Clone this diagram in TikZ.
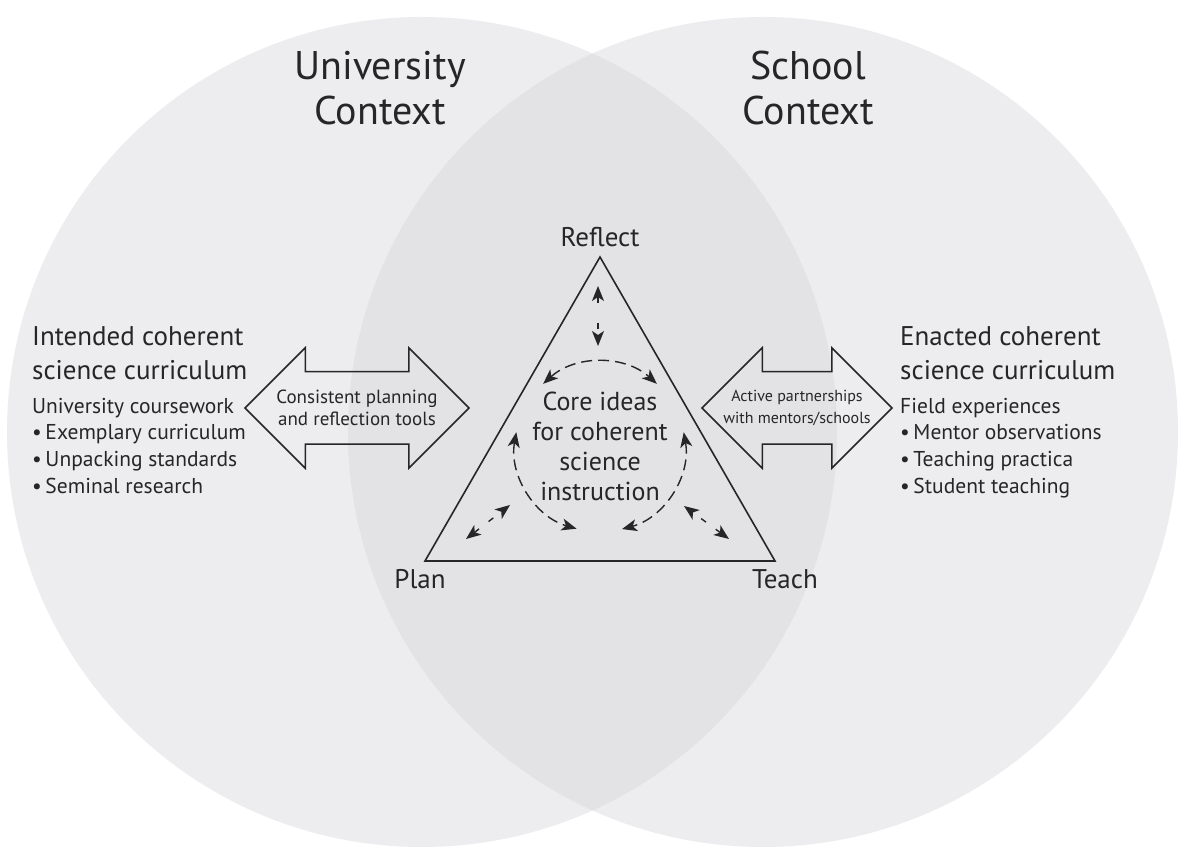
\documentclass[tikz,border=0pt]{standalone}
\usepackage{fontspec}
\setmainfont{PT Sans}
\usetikzlibrary{arrows.meta, positioning, shapes.arrows, calc}

\definecolor{ctxgray}{RGB}{237,237,239}
\definecolor{overlapgray}{RGB}{227,227,230}
\definecolor{inkgray}{RGB}{38,38,38}

\begin{document}
\begin{tikzpicture}[
    x=1pt, y=1pt,
    >={Stealth[length=15pt, width=12pt, inset=4pt]},
    every node/.style={text=inkgray},
    title/.style={align=center, font=\fontsize{40}{45}\selectfont},
    heading/.style={align=left, inner sep=0pt, font=\fontsize{27}{34}\selectfont},
    listtext/.style={align=left, inner sep=0pt, font=\fontsize{21.5}{26.8}\selectfont},
    corner/.style={font=\fontsize{27}{30}\selectfont},
    blockarrow/.style={double arrow, draw=inkgray, line width=1.5pt,
        double arrow head extend=24pt, double arrow tip angle=90, inner xsep=0pt, inner ysep=35.5pt},
    arrowtext/.style={align=center, font=\fontsize{16}{22}\selectfont},
    loopline/.style={<->, draw=inkgray, line width=1.4pt, dash pattern=on 11pt off 6pt},
    pairarrow/.style={<->, draw=inkgray, line width=1.4pt, dash pattern=on 6pt off #1},
    pairarrow/.default=20pt
]
  \useasboundingbox (0,0) rectangle (1184,855);
  \fill[white] (0,0) rectangle (1184,855);

  % the two contexts and their overlap
  \coordinate (uni) at (422,423);
  \coordinate (sch) at (763,423);
  \fill[ctxgray] (uni) circle[radius=415];
  \fill[ctxgray] (sch) circle[radius=415];
  \begin{scope}
    \clip (uni) circle[radius=415];
    \fill[overlapgray] (sch) circle[radius=415];
  \end{scope}

  \node[title] (tuni) at (380,767) {University\\Context};
  \node[title] (tsch) at (808,767) {School\\Context};

  % curriculum lists on both sides
  \node[heading, anchor=north west] (lhead) at (32,529) {Intended coherent\\science curriculum};
  \node[listtext, anchor=north west] (llist) at ([yshift=-18pt]lhead.south west)
    {University coursework\\•\,Exemplary curriculum\\•\,Unpacking standards\\•\,Seminal research};
  \node[heading, anchor=north west] (rhead) at (900,529) {Enacted coherent\\science curriculum};
  \node[listtext, anchor=north west] (rlist) at ([yshift=-18pt]rhead.south west)
    {Field experiences\\•\,Mentor observations\\•\,Teaching practica\\•\,Student teaching};

  % block arrows
  \node[blockarrow, minimum height=224pt] (larrow) at (357,447) {};
  \node[arrowtext, font=\fontsize{19}{22}\selectfont] (ltext) at (larrow) {Consistent planning\\and reflection tools};
  \node[blockarrow, minimum height=190pt] (rarrow) at (797,447) {};
  \node[arrowtext] (rtext) at (rarrow) {Active partnerships\\with mentors/schools};

  % triangle
  \coordinate (R) at (600,598);
  \coordinate (P) at (425,294);
  \coordinate (T) at (775,294);
  \draw[inkgray, line width=1.6pt, line join=miter] (R) -- (P) -- (T) -- cycle;
  \node[corner] (lreflect) at (600,618) {Reflect};
  \node[corner] (lplan) at (420,276) {Plan};
  \node[corner] (lteach) at (785,276) {Teach};

  \coordinate (C) at (600,408);
  \node[align=center, font=\fontsize{26}{30}\selectfont] (core) at (600,409)
    {Core ideas\\for coherent\\science\\instruction};

  % dashed cycle round the core ideas
  \draw[loopline] ([shift={(132:85)}]C) arc[start angle=132, end angle=48, radius=85];
  \draw[loopline] ([shift={(170:85)}]C) arc[start angle=170, end angle=254, radius=85];
  \draw[loopline] ([shift={(10:85)}]C) arc[start angle=10, end angle=-75, radius=85];

  % arrows towards each corner
  \coordinate (ra) at (598,569);
  \coordinate (rb) at (598,509);
  \coordinate (pa) at (466,316);
  \coordinate (pb) at (510,350);
  \coordinate (ta) at (729,316);
  \coordinate (tb) at (684,349);
  \draw[pairarrow] (ra) -- (rb);
  \draw[pairarrow=12pt] (pa) -- (pb);
  \draw[pairarrow=12pt] (ta) -- (tb);
\end{tikzpicture}
\end{document}
